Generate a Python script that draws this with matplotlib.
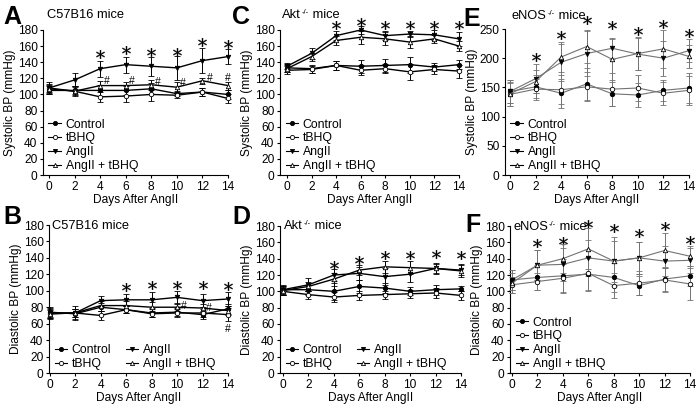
import matplotlib
matplotlib.use('Agg')
import matplotlib.pyplot as plt
from matplotlib.lines import Line2D
import numpy as np

plt.rcParams['font.family'] = ['Liberation Sans', 'DejaVu Sans']

days = [0, 2, 4, 6, 8, 10, 12, 14]
groups = ['Control', 'tBHQ', 'AngII', 'AngII + tBHQ']

# A: systolic, C57B16
a_ctrl = [105, 105, 105, 105, 107, 101, 103, 100]
a_tbhq = [108, 104, 97, 98, 100, 99, 103, 95]
a_ang = [108, 118, 132, 137, 135, 133, 142, 147]
a_angt = [107, 104, 111, 111, 112, 109, 117, 111]
a_ctrl_err = [5, 5, 7, 6, 7, 3, 5, 6]
a_tbhq_err = [5, 5, 6, 7, 8, 4, 5, 6]
a_ang_err = [7, 8, 10, 10, 12, 15, 16, 9]
a_angt_err = [5, 6, 6, 5, 6, 7, 4, 5]
a_star_x = [4, 6, 8, 10, 12, 14]
a_star_y = [150, 155, 153, 153, 165, 163]
a_hash_x = [4.5, 6.5, 8.5, 10.5, 12.6, 14]
a_hash_y = [117, 117, 115, 114, 120, 121]

# B: diastolic, C57B16
b_ctrl = [74, 72, 80, 77, 73, 74, 71, 78]
b_tbhq = [72, 73, 70, 77, 72, 73, 73, 71]
b_ang = [73, 73, 88, 89, 89, 92, 88, 90]
b_angt = [72, 73, 82, 82, 80, 80, 79, 76]
b_ctrl_err = [6, 6, 5, 4, 5, 5, 5, 6]
b_tbhq_err = [6, 5, 5, 4, 4, 5, 5, 8]
b_ang_err = [6, 8, 6, 7, 10, 8, 8, 8]
b_angt_err = [5, 5, 6, 5, 6, 5, 5, 5]
b_star_x = [6, 8, 10, 12, 14]
b_star_y = [104, 107, 107, 107, 106]
b_hash_x = [10.5, 12.5, 14]
b_hash_y = [82, 79, 54]

# C: systolic, Akt-/-
c_ctrl = [133, 132, 136, 135, 136, 137, 134, 137]
c_tbhq = [130, 131, 136, 130, 132, 128, 131, 129]
c_ang = [135, 151, 173, 180, 173, 175, 174, 169]
c_angt = [132, 147, 167, 171, 169, 165, 169, 160]
c_ctrl_err = [5, 5, 6, 8, 8, 10, 5, 6]
c_tbhq_err = [5, 4, 6, 6, 6, 10, 6, 8]
c_ang_err = [4, 7, 6, 5, 6, 4, 6, 9]
c_angt_err = [4, 5, 6, 8, 8, 7, 5, 6]
c_star_x = [4, 6, 8, 10, 12, 14]
c_star_y = [186, 190, 186, 186, 186, 186]

# D: diastolic, Akt-/-
d_ctrl = [102, 102, 100, 106, 104, 100, 102, 103]
d_tbhq = [100, 96, 93, 95, 96, 97, 98, 95]
d_ang = [102, 108, 120, 122, 118, 121, 128, 126]
d_angt = [101, 106, 115, 126, 130, 129, 128, 125]
d_ctrl_err = [5, 6, 10, 8, 6, 5, 6, 3]
d_tbhq_err = [5, 5, 6, 6, 5, 5, 6, 6]
d_ang_err = [6, 8, 7, 8, 10, 9, 7, 6]
d_angt_err = [6, 6, 8, 6, 7, 8, 6, 8]
d_star_x = [4, 6, 8, 10, 12, 14]
d_star_y = [132, 138, 144, 144, 146, 144]

# E: systolic, eNOS-/-
e_ctrl = [143, 151, 140, 156, 139, 137, 145, 149]
e_tbhq = [138, 147, 146, 151, 147, 149, 140, 145]
e_ang = [143, 165, 193, 208, 217, 207, 200, 213]
e_angt = [139, 160, 202, 220, 198, 208, 216, 203]
e_ctrl_err = [20, 20, 25, 28, 20, 20, 18, 25]
e_tbhq_err = [20, 18, 25, 25, 28, 22, 20, 25]
e_ang_err = [20, 25, 32, 38, 18, 28, 30, 20]
e_angt_err = [20, 20, 25, 28, 35, 28, 32, 20]
e_star_x = [2, 4, 6, 8, 10, 12, 14]
e_star_y = [202, 240, 266, 257, 246, 259, 244]

# F: diastolic, eNOS-/-
f_ctrl = [114, 117, 119, 121, 117, 107, 115, 119]
f_tbhq = [108, 112, 116, 122, 107, 110, 114, 109]
f_ang = [114, 132, 133, 141, 137, 141, 137, 138]
f_angt = [110, 132, 140, 152, 137, 141, 150, 143]
f_ctrl_err = [12, 15, 20, 20, 18, 12, 15, 12]
f_tbhq_err = [10, 10, 18, 20, 15, 15, 15, 20]
f_ang_err = [12, 18, 20, 22, 25, 20, 18, 15]
f_angt_err = [12, 18, 18, 25, 30, 20, 22, 12]
f_star_x = [2, 4, 6, 8, 10, 12, 14]
f_star_y = [159, 162, 183, 177, 171, 180, 163]

W, H = 700, 411
fig = plt.figure(figsize=(7, 4.11), dpi=100)
renderer = fig.canvas.get_renderer()


def make_ax(left, right, top, bottom):
    return fig.add_axes([left / W, 1 - bottom / H, (right - left) / W, (bottom - top) / H])


markers = [('o', 'k'), ('o', 'white'), ('v', 'k'), ('^', 'white')]


def panel(ax, series, errs, ymax, ystep, xlo, ylabel, col, ncol, stars, hashes=None):
    lw = 1.0 if col == 'k' else 0.8
    handles = []
    for vals, err, (m, fc), name in zip(series, errs, markers, groups):
        ax.errorbar(days, vals, yerr=err, color=col, ecolor=col, lw=lw, elinewidth=0.7,
                    capsize=2, capthick=0.7, marker=m, ms=3.2, mfc=fc, mec='k',
                    mew=0.6, clip_on=False, zorder=3)
        handles.append(Line2D([], [], color='k', lw=0.8, marker=m, ms=3.0, mfc=fc,
                              mec='k', mew=0.6))
    ax.plot(stars[0], stars[1], ls='none', marker='$*$', ms=6.3, color='k',
            mew=0.2, clip_on=False)
    if hashes is not None:
        for x, y in zip(*hashes):
            ax.text(x, y, '#', fontsize=7.5, ha='center', va='center')
    ax.set_xlim(xlo, 14)
    ax.set_ylim(0, ymax)
    ax.set_xticks(days)
    ax.set_yticks(np.arange(0, ymax + 1, ystep))
    ax.tick_params(labelsize=8.6, length=2.5, width=0.8, pad=1.5)
    for s in ('left', 'bottom'):
        ax.spines[s].set_linewidth(0.8)
    ax.spines['top'].set_visible(False)
    ax.spines['right'].set_visible(False)
    ax.set_xlabel('Days After AngII', fontsize=8.6, labelpad=1)
    ax.set_ylabel(ylabel, fontsize=8.6, labelpad=1)
    ax.legend(handles, groups, loc='lower left', bbox_to_anchor=(-0.01, -0.03), ncol=ncol,
              frameon=False, fontsize=8.8, handlelength=1.0, handletextpad=0.4,
              labelspacing=0.15, columnspacing=1.2, borderaxespad=0.2)


sys_lbl = 'Systolic BP (mmHg)'
dia_lbl = 'Diastolic BP (mmHg)'
gray = '0.45'

axA = make_ax(43, 228, 30, 175)
panel(axA, [a_ctrl, a_tbhq, a_ang, a_angt], [a_ctrl_err, a_tbhq_err, a_ang_err, a_angt_err],
      180, 20, -0.47, sys_lbl, 'k', 1, (a_star_x, a_star_y), (a_hash_x, a_hash_y))
axB = make_ax(49, 228, 225, 373)
panel(axB, [b_ctrl, b_tbhq, b_ang, b_angt], [b_ctrl_err, b_tbhq_err, b_ang_err, b_angt_err],
      180, 20, -0.05, dia_lbl, 'k', 2, (b_star_x, b_star_y), (b_hash_x, b_hash_y))
axC = make_ax(280, 459, 30, 175)
panel(axC, [c_ctrl, c_tbhq, c_ang, c_angt], [c_ctrl_err, c_tbhq_err, c_ang_err, c_angt_err],
      180, 20, -0.57, sys_lbl, 'k', 1, (c_star_x, c_star_y))
axD = make_ax(280, 461, 226, 373)
panel(axD, [d_ctrl, d_tbhq, d_ang, d_angt], [d_ctrl_err, d_tbhq_err, d_ang_err, d_angt_err],
      180, 20, -0.24, dia_lbl, 'k', 2, (d_star_x, d_star_y))
axE = make_ax(505, 689, 29, 175)
panel(axE, [e_ctrl, e_tbhq, e_ang, e_angt], [e_ctrl_err, e_tbhq_err, e_ang_err, e_angt_err],
      250, 50, -0.39, sys_lbl, gray, 1, (e_star_x, e_star_y))
axF = make_ax(510, 690, 226, 373)
panel(axF, [f_ctrl, f_tbhq, f_ang, f_angt], [f_ctrl_err, f_tbhq_err, f_ang_err, f_angt_err],
      180, 20, -0.16, dia_lbl, gray, 1, (f_star_x, f_star_y))

# panel letters
for lbl, x, y in [('A', 3, 5), ('B', 3, 205), ('C', 232, 5), ('D', 232, 205), ('E', 463, 7), ('F', 465, 213)]:
    fig.text(x / W, 1 - y / H, lbl, fontsize=18, fontweight='bold', va='top', ha='left')


def title(x, y, base, sup='', rest=''):
    # base text, small raised superscript, then the rest
    t = fig.text(x / W, 1 - y / H, base, fontsize=9.3, va='baseline', ha='left')
    if not sup:
        return
    x1 = t.get_window_extent(renderer).x1
    s = fig.text(x1 / W + 0.001, 1 - (y - 4) / H, sup, fontsize=5.5, va='baseline', ha='left')
    x2 = s.get_window_extent(renderer).x1
    fig.text(x2 / W, 1 - y / H, rest, fontsize=9.3, va='baseline', ha='left')


title(47, 18, 'C57B16 mice')
title(52, 229, 'C57B16 mice')
title(282, 18, 'Akt', '-/-', ' mice')
title(284, 229, 'Akt', '-/-', ' mice')
title(512, 19, 'eNOS', '-/-', ' mice')
title(513, 230, 'eNOS', '-/-', ' mice')

fig.savefig('out.png', dpi=100)
